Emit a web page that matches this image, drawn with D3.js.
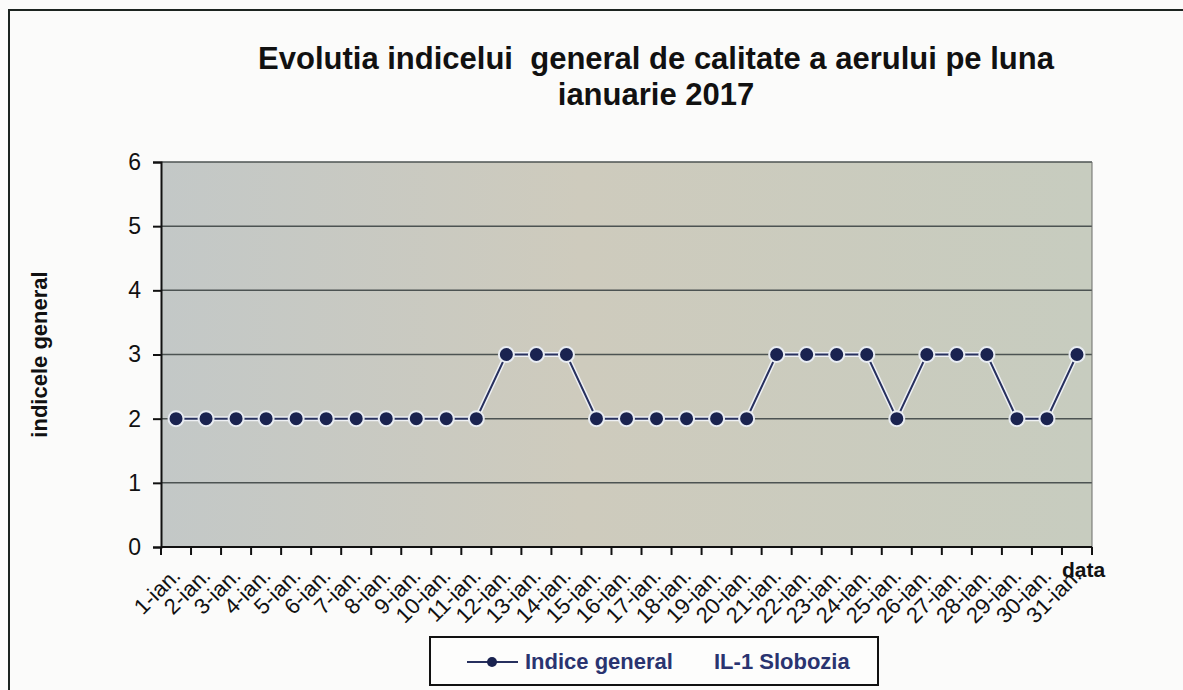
<!DOCTYPE html>
<html>
<head>
<meta charset="utf-8">
<script src="https://cdn.jsdelivr.net/npm/d3@7/dist/d3.min.js"></script>
<style>
html, body { margin:0; padding:0; overflow:hidden; background:#fbfbfa; }
svg { display:block; font-family: Arial, "Liberation Sans", sans-serif; }
</style>
</head>
<body>
<svg width="1183" height="690"></svg>
<script>
var titleLines = ["Evolutia indicelui  general de calitate a aerului pe luna", "ianuarie 2017"];
var days = ["1-ian.","2-ian.","3-ian.","4-ian.","5-ian.","6-ian.","7-ian.","8-ian.","9-ian.","10-ian.",
  "11-ian.","12-ian.","13-ian.","14-ian.","15-ian.","16-ian.","17-ian.","18-ian.","19-ian.","20-ian.",
  "21-ian.","22-ian.","23-ian.","24-ian.","25-ian.","26-ian.","27-ian.","28-ian.","29-ian.","30-ian.","31-ian."];
var indiceGeneral = [2,2,2,2,2,2,2,2,2,2,2,3,3,3,2,2,2,2,2,2,3,3,3,3,2,3,3,3,2,2,3];
var yTicks = [0,1,2,3,4,5,6];
var legendItems = ["Indice general", "IL-1 Slobozia"];

var svg = d3.select("svg");
var plotLeft = 161, plotRight = 1092, plotTop = 162, plotBottom = 547;

// outer frame (runs off the page on right and bottom)
svg.append("path")
  .attr("d", "M9,700 L9,10 L1190,10")
  .attr("fill", "none")
  .attr("stroke", "#1c2420")
  .attr("stroke-width", 2);

svg.selectAll(".title")
  .data(titleLines)
  .enter()
  .append("text")
  .attr("x", 656)
  .attr("y", function(d,i){ return 69 + i*36; })
  .attr("text-anchor", "middle")
  .attr("font-size", "31px")
  .attr("font-weight", "bold")
  .attr("fill", "#111")
  .style("white-space", "pre")
  .text(function(d){ return d; });

var x = d3.scaleBand().domain(days).range([plotLeft, plotRight]);
var y = d3.scaleLinear().domain([0, 6]).range([plotBottom, plotTop]);

// plot background
var grad = svg.append("defs").append("linearGradient").attr("id", "bg");
grad.append("stop").attr("offset", "0%").attr("stop-color", "#c3c8c7");
grad.append("stop").attr("offset", "45%").attr("stop-color", "#cecbbd");
grad.append("stop").attr("offset", "100%").attr("stop-color", "#c7ccbf");
svg.append("rect")
  .attr("x", plotLeft).attr("y", plotTop)
  .attr("width", plotRight-plotLeft).attr("height", plotBottom-plotTop)
  .attr("fill", "url(#bg)");

// gridlines
svg.selectAll(".grid")
  .data(yTicks.slice(1))
  .enter()
  .append("line")
  .attr("x1", plotLeft).attr("x2", plotRight)
  .attr("y1", function(d){ return y(d); })
  .attr("y2", function(d){ return y(d); })
  .attr("stroke", "#4c5352")
  .attr("stroke-width", 1.5);

svg.append("line")
  .attr("x1", plotRight).attr("x2", plotRight)
  .attr("y1", plotTop).attr("y2", plotBottom)
  .attr("stroke", "#6a6d68").attr("stroke-width", 1);

// y axis
var yAxis = svg.append("g")
  .attr("transform", "translate(" + plotLeft + ",0)")
  .call(d3.axisLeft(y).tickValues(yTicks).tickFormat(d3.format("d")).tickSize(8).tickPadding(12));
yAxis.select(".domain").attr("stroke", "#111").attr("stroke-width", 2);
yAxis.selectAll(".tick line").attr("stroke", "#111").attr("stroke-width", 2);
yAxis.selectAll(".tick text")
  .attr("font-size", "23px")
  .attr("font-family", "Arial, 'Liberation Sans', sans-serif")
  .attr("fill", "#111");

// x axis line and category boundary ticks
svg.append("line")
  .attr("x1", plotLeft).attr("x2", plotRight)
  .attr("y1", plotBottom).attr("y2", plotBottom)
  .attr("stroke", "#111").attr("stroke-width", 2);
svg.selectAll(".xtick")
  .data(days.concat(["end"]))
  .enter()
  .append("line")
  .attr("x1", function(d,i){ return i < days.length ? x(d) : plotRight; })
  .attr("x2", function(d,i){ return i < days.length ? x(d) : plotRight; })
  .attr("y1", plotBottom).attr("y2", plotBottom + 8)
  .attr("stroke", "#111").attr("stroke-width", 2);

svg.selectAll(".xlabel")
  .data(days)
  .enter()
  .append("text")
  .attr("transform", function(d){
    return "translate(" + (x(d) + x.bandwidth()/2 - 5) + "," + (plotBottom + 19) + ") rotate(-45)";
  })
  .attr("text-anchor", "end")
  .attr("dy", "0.7em")
  .attr("font-size", "22px")
  .attr("fill", "#111")
  .text(function(d){ return d; });

svg.append("text")
  .attr("x", 1062).attr("y", 577)
  .attr("font-size", "21px")
  .attr("font-weight", "bold")
  .attr("fill", "#111")
  .text("data");

svg.append("text")
  .attr("transform", "translate(47," + ((plotTop+plotBottom)/2) + ") rotate(-90)")
  .attr("text-anchor", "middle")
  .attr("font-size", "22px")
  .attr("font-weight", "bold")
  .attr("fill", "#111")
  .text("indicele general");

// series
var line = d3.line()
  .x(function(d,i){ return x(days[i]) + x.bandwidth()/2; })
  .y(function(d){ return y(d); });

svg.append("path")
  .datum(indiceGeneral)
  .attr("d", line)
  .attr("fill", "none")
  .attr("stroke", "#eef0f4")
  .attr("stroke-width", 5);
svg.append("path")
  .datum(indiceGeneral)
  .attr("d", line)
  .attr("fill", "none")
  .attr("stroke", "#27305e")
  .attr("stroke-width", 2);

svg.selectAll(".pt")
  .data(indiceGeneral)
  .enter()
  .append("circle")
  .attr("cx", function(d,i){ return x(days[i]) + x.bandwidth()/2; })
  .attr("cy", function(d){ return y(d); })
  .attr("r", 7.5)
  .attr("fill", "#1a2350")
  .attr("stroke", "#e8ecf2")
  .attr("stroke-width", 2);

// legend
var lg = svg.append("g");
lg.append("rect")
  .attr("x", 430).attr("y", 637)
  .attr("width", 448).attr("height", 48)
  .attr("fill", "#fdfdfc")
  .attr("stroke", "#111").attr("stroke-width", 2);
lg.append("line")
  .attr("x1", 467).attr("x2", 518)
  .attr("y1", 662).attr("y2", 662)
  .attr("stroke", "#27305e").attr("stroke-width", 2);
lg.append("circle")
  .attr("cx", 492).attr("cy", 662).attr("r", 5)
  .attr("fill", "#1a2350");
lg.selectAll(".lt")
  .data(legendItems)
  .enter()
  .append("text")
  .attr("x", function(d,i){ return i === 0 ? 525 : 714; })
  .attr("y", 669)
  .attr("font-size", "22px")
  .attr("font-weight", "bold")
  .attr("fill", "#2a3470")
  .text(function(d){ return d; });
</script>
</body>
</html>
